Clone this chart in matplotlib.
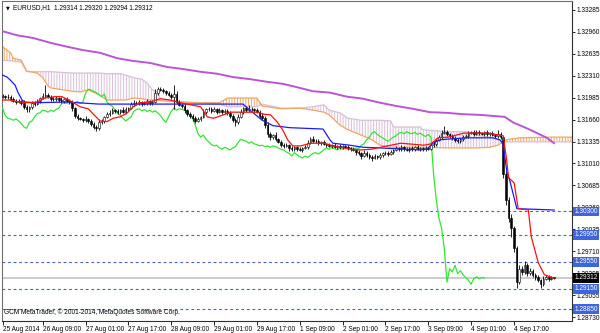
import matplotlib.pyplot as plt
import matplotlib.transforms as mtransforms
import numpy as np

# EURUSD H1, bar 0 = 25 Aug 18:00 ... bar 206 = 5 Sep 08:00
first_open = 1.3200
closes = [
    1.3201, 1.3199, 1.3200, 1.3196, 1.3194, 1.3192, 1.3193, 1.3191, 1.3185, 1.3181,
    1.3184, 1.3190, 1.3189, 1.3194, 1.3198, 1.3201, 1.3202, 1.3200, 1.3197, 1.3196,
    1.3198, 1.3195, 1.3193, 1.3196, 1.3194, 1.3192, 1.3183, 1.3172, 1.3168, 1.3167,
    1.3165, 1.3167, 1.3164, 1.3160, 1.3155, 1.3153, 1.3162, 1.3164, 1.3170, 1.3175,
    1.3176, 1.3180, 1.3179, 1.3177, 1.3180, 1.3178, 1.3181, 1.3183, 1.3189, 1.3191,
    1.3190, 1.3192, 1.3189, 1.3191, 1.3193, 1.3190, 1.3192, 1.3205, 1.3211, 1.3210,
    1.3208, 1.3206, 1.3203, 1.3200, 1.3204, 1.3192, 1.3188, 1.3186, 1.3180, 1.3175,
    1.3172, 1.3168, 1.3164, 1.3167, 1.3170, 1.3178, 1.3181, 1.3182, 1.3179, 1.3181,
    1.3178, 1.3180, 1.3177, 1.3179, 1.3176, 1.3172, 1.3166, 1.3162, 1.3170, 1.3178,
    1.3183, 1.3180, 1.3182, 1.3181, 1.3180, 1.3178, 1.3172, 1.3168, 1.3158, 1.3145,
    1.3140, 1.3143, 1.3137, 1.3133, 1.3129, 1.3127, 1.3128, 1.3124, 1.3122, 1.3125,
    1.3123, 1.3121, 1.3124, 1.3126, 1.3132, 1.3137, 1.3135, 1.3134, 1.3131, 1.3133,
    1.3130, 1.3129, 1.3127, 1.3128, 1.3126, 1.3127, 1.3125, 1.3127, 1.3126, 1.3124,
    1.3122, 1.3121, 1.3118, 1.3116, 1.3112, 1.3117, 1.3114, 1.3111, 1.3109, 1.3112,
    1.3110, 1.3113, 1.3116, 1.3117, 1.3115, 1.3118, 1.3121, 1.3124, 1.3122, 1.3125,
    1.3123, 1.3121, 1.3124, 1.3122, 1.3125, 1.3123, 1.3124, 1.3122, 1.3124, 1.3123,
    1.3128, 1.3130, 1.3136, 1.3140, 1.3146, 1.3148, 1.3144, 1.3141, 1.3139, 1.3136,
    1.3134, 1.3137, 1.3140, 1.3142, 1.3146, 1.3147, 1.3145, 1.3148, 1.3146, 1.3145,
    1.3147, 1.3144, 1.3146, 1.3143, 1.3141, 1.3144, 1.3140, 1.3085, 1.3047, 1.3020,
    1.3005, 1.2975, 1.2925, 1.2945, 1.2940, 1.2950, 1.2938, 1.2942, 1.2936, 1.2932,
    1.2928, 1.2922, 1.2930, 1.2933, 1.2930, 1.2932, 1.29312,
]
# wick lengths above / below the body, in pips
up_pips = [
    3, 2, 4, 2, 3, 2, 3, 2, 4, 3, 2, 3, 4, 3, 2, 5, 15, 4, 3, 2,
    3, 2, 4, 2, 3, 2, 3, 2, 3, 2, 2, 4, 2, 3, 2, 3, 5, 3, 2, 3,
    4, 3, 2, 3, 2, 4, 3, 2, 3, 4, 2, 3, 2, 3, 4, 2, 3, 6, 4, 3,
    3, 2, 3, 2, 13, 4, 3, 2, 3, 2, 3, 2, 4, 3, 2, 3, 2, 3, 2, 4,
    2, 3, 2, 3, 2, 3, 2, 3, 4, 3, 2, 3, 5, 3, 2, 3, 2, 4, 3, 5,
    3, 2, 4, 2, 3, 2, 3, 2, 3, 2, 2, 3, 2, 3, 4, 3, 5, 2, 3, 2,
    3, 2, 3, 2, 3, 2, 3, 2, 2, 3, 2, 3, 2, 3, 2, 4, 2, 3, 2, 3,
    2, 3, 2, 3, 2, 3, 2, 3, 2, 3, 2, 3, 2, 3, 2, 3, 2, 2, 3, 2,
    3, 4, 3, 3, 4, 9, 3, 2, 3, 2, 3, 2, 3, 2, 3, 2, 3, 2, 3, 2,
    2, 3, 2, 3, 2, 6, 3, 2, 5, 4, 6, 4, 3, 5, 4, 6, 3, 4, 3, 3,
    3, 2, 4, 2, 3, 2, 1,
]
down_pips = [
    2, 3, 2, 3, 2, 3, 2, 4, 3, 3, 3, 2, 3, 2, 3, 2, 3, 2, 3, 2,
    2, 3, 2, 3, 2, 3, 4, 3, 3, 2, 3, 2, 3, 4, 3, 4, 3, 2, 3, 2,
    3, 2, 3, 2, 3, 2, 3, 2, 2, 3, 3, 2, 3, 2, 3, 2, 3, 2, 3, 2,
    2, 3, 2, 3, 19, 3, 2, 3, 4, 3, 3, 4, 3, 2, 3, 2, 3, 2, 3, 2,
    3, 2, 3, 2, 3, 4, 3, 5, 3, 2, 3, 2, 3, 2, 3, 2, 3, 3, 4, 5,
    4, 3, 3, 2, 3, 3, 2, 4, 3, 2, 3, 2, 3, 2, 3, 2, 3, 2, 3, 3,
    2, 3, 2, 3, 2, 3, 2, 3, 2, 3, 3, 2, 4, 3, 5, 2, 3, 3, 4, 2,
    3, 2, 3, 2, 3, 2, 3, 2, 3, 2, 3, 2, 3, 2, 3, 2, 3, 2, 3, 2,
    2, 3, 3, 2, 3, 2, 3, 2, 3, 3, 3, 2, 3, 2, 3, 2, 3, 2, 3, 2,
    3, 2, 3, 2, 3, 2, 3, 5, 7, 6, 13, 6, 9, 3, 4, 3, 4, 3, 3, 4,
    3, 5, 3, 2, 3, 2, 2,
]

# Ichimoku lines and moving average as (bar, price)
tenkan_x = [0, 2.7, 6.5, 10.2, 12.8, 15.8, 19.6, 22.2, 25.2, 29, 32, 34.2, 36.4, 39, 41.3,
            43.9, 46.6, 48.8, 51.4, 55.2, 58.9, 62.7, 66.4, 70.2, 74, 76.5, 78.8, 82.5,
            85.1, 95.2, 97.5, 100.1, 102.7, 104.6, 106.5, 108.4, 111.3, 115.1, 120, 123.7,
            130, 133.8, 137.6, 141.3, 145, 148.8, 157.4, 160, 162.7, 166.4, 172.4, 181.4,
            187, 188.3, 189, 191.1, 192.6, 196.4, 197.5, 200.1, 202.4, 206]
tenkan = [1.3195, 1.3195, 1.3192, 1.3191, 1.3192, 1.3198, 1.3200, 1.3200, 1.3194, 1.3185,
          1.3182, 1.3173, 1.3164, 1.3163, 1.3168, 1.3170, 1.3176, 1.3185, 1.3191, 1.3192,
          1.3197, 1.3195, 1.3191, 1.3188, 1.3185, 1.3170, 1.3168, 1.3173, 1.3177, 1.3177,
          1.3174, 1.3173, 1.3162, 1.3151, 1.3136, 1.3127, 1.3127, 1.3131, 1.3131, 1.3127,
          1.3122, 1.3121, 1.3122, 1.3125, 1.3128, 1.3131, 1.3128, 1.3130, 1.3139, 1.3140,
          1.3146, 1.3146, 1.3142, 1.3106, 1.3080, 1.3072, 1.3034, 1.3032, 1.2992, 1.2954,
          1.2936, 1.2931]
kijun_x = [0, 1.7, 2.8, 4.7, 5.8, 7.3, 8.4, 12, 24, 36, 70, 89.8, 92.4, 97, 101, 107.4,
           119.7, 122.3, 123.4, 129.8, 134.6, 141, 155.9, 158.5, 160.8, 163.4, 166, 173.5,
           183.2, 185.8, 187, 188.4, 189.5, 192.1, 206]
kijun = [1.3232, 1.3229, 1.3225, 1.3217, 1.3206, 1.3195, 1.3192, 1.3191, 1.3192, 1.3189,
         1.3189, 1.3189, 1.3180, 1.3165, 1.3157, 1.3154, 1.3152, 1.3136, 1.3131, 1.3128,
         1.3125, 1.3124, 1.3121, 1.3122, 1.3131, 1.3136, 1.3137, 1.3139, 1.3139, 1.3136,
         1.3129, 1.3088, 1.3075, 1.3034, 1.3032]
cloud_x = [0, 3, 4, 7, 9, 13, 15, 17, 18, 26, 29, 32, 36, 39, 44, 46, 49, 52, 54, 56,
           58, 59, 70, 81, 84, 95, 97, 104, 111, 116, 120, 122, 126, 129, 134, 138, 141,
           145, 146, 156, 157, 166, 174, 177, 182, 185, 188, 193, 205, 213]
senkou_a = [1.3274, 1.3265, 1.3257, 1.3254, 1.3238, 1.3235, 1.3228, 1.3216, 1.3213, 1.3208,
            1.3207, 1.3210, 1.3203, 1.3195, 1.3195, 1.3195, 1.3198, 1.3197, 1.3195, 1.3195,
            1.3195, 1.3194, 1.3191, 1.3191, 1.3198, 1.3198, 1.3186, 1.3182, 1.3183, 1.3180,
            1.3177, 1.3173, 1.3158, 1.3151, 1.3143, 1.3136, 1.3128, 1.3125, 1.3125, 1.3125,
            1.3125, 1.3124, 1.3124, 1.3124, 1.3125, 1.3128, 1.3136, 1.3139, 1.3140, 1.3140]
senkou_b = [1.3254, 1.3253, 1.3253, 1.3251, 1.3237, 1.3237, 1.3237, 1.3237, 1.3237, 1.3235,
            1.3235, 1.3235, 1.3235, 1.3234, 1.3234, 1.3232, 1.3228, 1.3226, 1.3220, 1.3210,
            1.3207, 1.3195, 1.3192, 1.3189, 1.3185, 1.3185, 1.3189, 1.3183, 1.3183, 1.3185,
            1.3188, 1.3180, 1.3176, 1.3168, 1.3165, 1.3165, 1.3165, 1.3164, 1.3155, 1.3155,
            1.3151, 1.3148, 1.3148, 1.3143, 1.3140, 1.3136, 1.3133, 1.3133, 1.3133, 1.3133]
ma_x = [0, 5.4, 11.4, 17.7, 24.1, 30.1, 36.4, 42.8, 48.7, 55.1, 61.4, 67.4, 73.7, 80.1,
        86.1, 92.4, 98.8, 104.7, 110, 116, 122.3, 128.6, 134.6, 141, 147.3, 153.3, 159.6,
        166, 172, 178.3, 184.6, 187.6, 190.6, 197, 203.3, 206]
ma = [1.3297, 1.3291, 1.3287, 1.3280, 1.3274, 1.3269, 1.3265, 1.3257, 1.3253, 1.3250,
      1.3244, 1.3241, 1.3237, 1.3234, 1.3229, 1.3226, 1.3222, 1.3219, 1.3214, 1.3208,
      1.3206, 1.3200, 1.3197, 1.3191, 1.3186, 1.3182, 1.3177, 1.3176, 1.3174, 1.3173,
      1.3171, 1.3170, 1.3162, 1.3151, 1.3139, 1.3131]

levels = [1.30300, 1.29950, 1.29550, 1.29150, 1.28850]
last_price = 1.29312
price_ticks = [1.33285, 1.32960, 1.32635, 1.32310, 1.31985, 1.31660, 1.31335, 1.31010,
               1.30685, 1.30360, 1.30035, 1.29710, 1.29385, 1.29055, 1.28730]
time_ticks = [0, 15, 31, 47, 63, 79, 95, 111, 127, 143, 159, 175, 191]
time_labels = ["25 Aug 2014", "26 Aug 09:00", "27 Aug 01:00", "27 Aug 17:00",
               "28 Aug 09:00", "29 Aug 01:00", "29 Aug 17:00", "1 Sep 09:00",
               "2 Sep 01:00", "2 Sep 17:00", "3 Sep 09:00", "4 Sep 01:00", "4 Sep 17:00"]

plt.rcParams["font.family"] = ["Liberation Sans", "DejaVu Sans"]
plt.rcParams["hatch.linewidth"] = 0.7
FS = 4.7

pip = 0.0001
c = np.array(closes)
o = np.array([first_open] + closes[:-1])
hi = np.maximum(o, c) + np.array(up_pips) * pip
lo = np.minimum(o, c) - np.array(down_pips) * pip
bars = np.arange(len(c))

fig = plt.figure(figsize=(6, 3.33), dpi=100)
ax = fig.add_axes([2 / 600, 12.5 / 333, 570 / 600, 319.5 / 333])
ax.set_xlim(-0.2, 212.7)
ax.set_ylim(1.28682, 1.33418)

# cloud: vertical hatching between the spans
ca, cb = np.array(senkou_a), np.array(senkou_b)
ax.fill_between(cloud_x, ca, cb, where=cb >= ca, interpolate=True, facecolor="none",
                edgecolor="#D8BFD8", hatch="||||||", linewidth=0, zorder=1)
ax.fill_between(cloud_x, ca, cb, where=ca > cb, interpolate=True, facecolor="none",
                edgecolor="#F4A460", hatch="||||||", linewidth=0, zorder=1)
ax.plot(cloud_x, senkou_b, color="#D8BFD8", lw=0.9, zorder=2)
ax.plot(cloud_x, senkou_a, color="#F4A460", lw=0.9, zorder=2)

# levels and current price
ax.axhline(last_price, color="#c8c8c8", lw=1.3, zorder=1)
for lv in levels:
    ax.axhline(lv, color="#4a5fd0", lw=0.8, ls=(0, (2.5, 2.5)), zorder=2)

ax.plot(ma_x, ma, color="#BA55D3", lw=1.4, zorder=3)
ax.plot(bars[26:] - 26, c[26:], color="#33e633", lw=0.9, zorder=3)

# candles
ax.vlines(bars, lo, hi, color="black", lw=0.6, zorder=4)
bull = c >= o
ax.bar(bars[bull], (c - o)[bull], bottom=o[bull], width=0.6, color="white",
       edgecolor="black", lw=0.4, zorder=5)
ax.bar(bars[~bull], (o - c)[~bull], bottom=c[~bull], width=0.6, color="black",
       edgecolor="black", lw=0.4, zorder=5)

ax.plot(kijun_x, kijun, color="#1a1aff", lw=0.9, zorder=6)
ax.plot(tenkan_x, tenkan, color="#ff1010", lw=0.9, zorder=6)

# axes styling
for side in ["left", "top"]:
    ax.spines[side].set_color("#707070")
    ax.spines[side].set_linewidth(0.8)
for side in ["right", "bottom"]:
    ax.spines[side].set_color("#303030")
    ax.spines[side].set_linewidth(0.8)
ax.yaxis.tick_right()
ax.set_yticks(price_ticks)
ax.set_yticklabels([f"{p:.5f}" for p in price_ticks], fontsize=FS)
ax.set_xticks(time_ticks)
ax.set_xticklabels(time_labels, fontsize=FS, ha="left")
ax.tick_params(axis="y", length=2, width=0.6, pad=1.0, colors="black")
ax.tick_params(axis="x", length=3, width=0.6, pad=1.0, colors="black")

trans = mtransforms.blended_transform_factory(ax.transAxes, ax.transData)
for lv in levels:
    ax.text(1.004, lv, f"{lv:.5f}", transform=trans, fontsize=FS, color="white",
            ha="left", va="center", zorder=10,
            bbox=dict(boxstyle="square,pad=0.2", fc="#3d66d8", ec="none"))
ax.text(1.004, last_price, f"{last_price:.5f}", transform=trans, fontsize=FS, color="white",
        ha="left", va="center", zorder=10,
        bbox=dict(boxstyle="square,pad=0.2", fc="black", ec="none"))

fig.text(6 / 600, 1 - 8 / 333, "\u25BC", fontsize=3.5, va="center", ha="left",
         family=["DejaVu Sans"])
fig.text(13 / 600, 1 - 8 / 333, "EURUSD,H1  1.29314 1.29320 1.29294 1.29312",
         fontsize=FS, va="center", ha="left")
fig.text(4 / 600, 1 - 312 / 333, "GCM MetaTrader, \u00A9 2001-2014, MetaQuotes Software Corp.",
         fontsize=FS, va="center", ha="left")

fig.savefig("out.png", dpi=100, facecolor="white")
